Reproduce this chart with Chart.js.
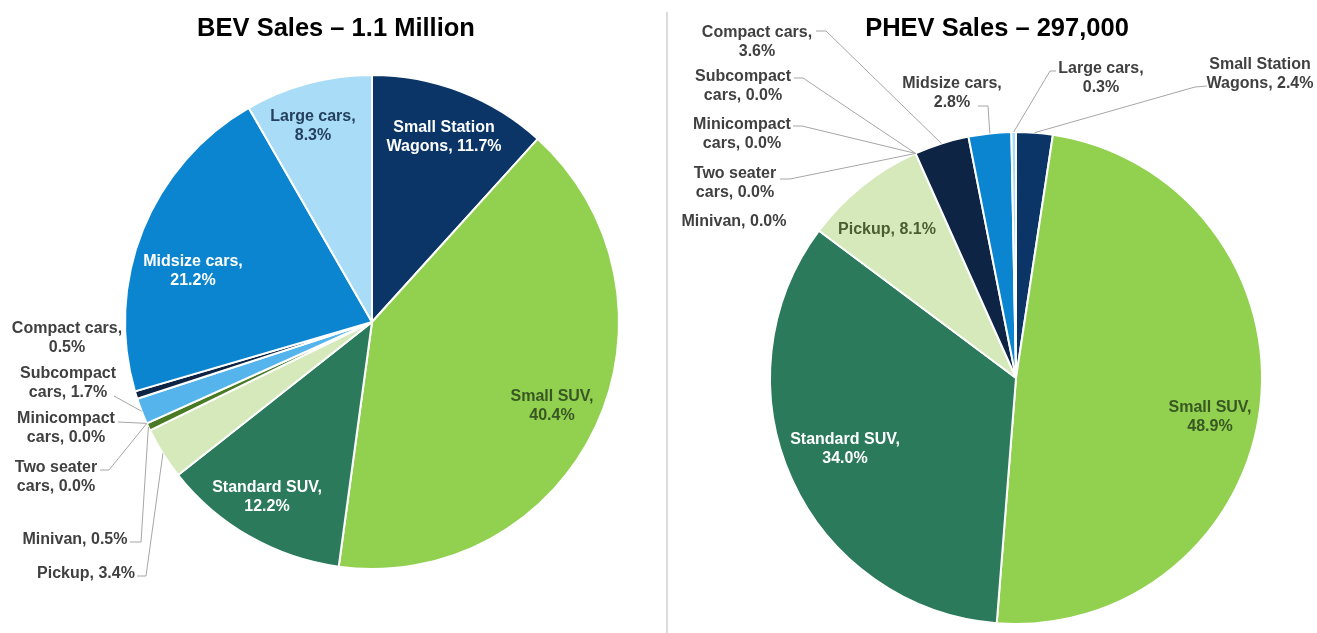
<!DOCTYPE html>
<html>
<head>
<meta charset="utf-8">
<script src="https://cdn.jsdelivr.net/npm/chart.js@4.4.1/dist/chart.umd.min.js"></script>
<style>
  html, body { margin:0; padding:0; background:#ffffff; }
  #wrap { position:relative; width:1317px; height:633px; background:#ffffff; overflow:hidden; }
  canvas { position:absolute; left:0; top:0; }
  #sep { position:absolute; left:666px; top:12px; width:2px; height:621px; background:#dcdcdc; }
</style>
</head>
<body>
<div id="wrap">
  <div id="sep"></div>
  <canvas id="bev" width="1317" height="633"></canvas>
  <canvas id="phev" width="1317" height="633"></canvas>
</div>
<script>
// ---------- DATA ----------
const categories = [
  'Small Station Wagons', 'Small SUV', 'Standard SUV', 'Pickup', 'Minivan',
  'Two seater cars', 'Minicompact cars', 'Subcompact cars', 'Compact cars',
  'Midsize cars', 'Large cars'
];
const bevShares  = [11.7, 40.4, 12.2, 3.4, 0.5, 0.0, 0.0, 1.7, 0.5, 21.2, 8.3];
const phevShares = [2.4, 48.9, 34.0, 8.1, 0.0, 0.0, 0.0, 0.0, 3.6, 2.8, 0.3];
const bevTitle  = 'BEV Sales \u2013 1.1 Million';
const phevTitle = 'PHEV Sales \u2013 297,000';

// ---------- STYLE ----------
const sliceColors = [
  '#0b3567', '#92d050', '#2a7a5b', '#d5e9bb', '#4a7b24',
  '#7f7f7f', '#bfbfbf', '#55b4ec', '#0d2444', '#0b85d0', '#a8dcf7'
];
const FONT = '"Liberation Sans", Arial, Helvetica, sans-serif';
const GREY = '#404040';
const LINE_H = 19;

// label placement (page pixels); brk = number of words on first line (0 = single line)
const bevLabelLayout = [
  {x:444, y:128, brk:2, color:'#ffffff'},
  {x:552, y:397, brk:2, color:'#385723'},
  {x:267, y:488, brk:2, color:'#ffffff'},
  {x:86,  y:574, brk:0, color:GREY, line:[[137,576],[146,576]]},
  {x:75,  y:540, brk:0, color:GREY, line:[[130,542],[141,542]]},
  {x:56,  y:468, brk:2, color:GREY, line:[[100,470],[109,470]]},
  {x:66,  y:419, brk:1, color:GREY, line:[[118,422]]},
  {x:68,  y:374, brk:1, color:GREY, line:[[114,396]]},
  {x:67,  y:329, brk:2, color:GREY},
  {x:193, y:262, brk:2, color:'#ffffff'},
  {x:313, y:117, brk:2, color:'#24405e'}
];
const phevLabelLayout = [
  {x:1260, y:65,  brk:2, color:GREY, line:[[1207,86],[1195,87]]},
  {x:1210, y:408, brk:2, color:'#385723'},
  {x:845,  y:440, brk:2, color:'#ffffff'},
  {x:887,  y:230, brk:0, color:'#4a5e32'},
  {x:734,  y:222, brk:0, color:GREY},
  {x:735,  y:174, brk:2, color:GREY, line:[[780,179],[790,179]]},
  {x:742,  y:125, brk:1, color:GREY, line:[[793,126],[802,126]]},
  {x:743,  y:77,  brk:1, color:GREY, line:[[794,78],[803,78]]},
  {x:757,  y:33,  brk:2, color:GREY, line:[[816,31],[826,31]]},
  {x:952,  y:84,  brk:2, color:GREY, line:[[978,106],[988,106]]},
  {x:1101, y:69,  brk:2, color:GREY, line:[[1056,71],[1050,71]]}
];

function labelLines(name, val, brk) {
  const txt = name + ', ' + val.toFixed(1) + '%';
  if (!brk) return [txt];
  const words = txt.split(' ');
  return [words.slice(0, brk).join(' '), words.slice(brk).join(' ')];
}

function makeLabelPlugin(shares, layout, title, titleX) {
  return {
    id: 'sliceLabels',
    afterDraw(chart) {
      const ctx = chart.ctx;
      const meta = chart.getDatasetMeta(0);
      ctx.save();
      // title
      ctx.font = 'bold 25.5px ' + FONT;
      ctx.fillStyle = '#000000';
      ctx.textAlign = 'center';
      ctx.textBaseline = 'alphabetic';
      ctx.fillText(title, titleX, 36);
      // leader lines
      ctx.strokeStyle = '#a6a6a6';
      ctx.lineWidth = 1;
      meta.data.forEach((arc, i) => {
        const L = layout[i];
        if (!L || !L.line) return;
        const a = (arc.startAngle + arc.endAngle) / 2;
        const ex = arc.x + Math.cos(a) * arc.outerRadius;
        const ey = arc.y + Math.sin(a) * arc.outerRadius;
        ctx.beginPath();
        ctx.moveTo(L.line[0][0], L.line[0][1]);
        for (let k = 1; k < L.line.length; k++) ctx.lineTo(L.line[k][0], L.line[k][1]);
        ctx.lineTo(ex, ey);
        ctx.stroke();
      });
      // labels
      ctx.font = 'bold 16px ' + FONT;
      ctx.textAlign = 'center';
      ctx.textBaseline = 'middle';
      meta.data.forEach((arc, i) => {
        const L = layout[i];
        if (!L) return;
        const lines = labelLines(categories[i], shares[i], L.brk);
        ctx.fillStyle = L.color;
        lines.forEach((t, k) => ctx.fillText(t, L.x, L.y + k * LINE_H));
      });
      ctx.restore();
    }
  };
}

function makePie(id, shares, padding, layout, title, titleX) {
  return new Chart(document.getElementById(id), {
    type: 'pie',
    data: {
      labels: categories,
      datasets: [{
        data: shares,
        backgroundColor: sliceColors,
        borderColor: '#ffffff',
        borderWidth: 2
      }]
    },
    options: {
      responsive: false,
      animation: false,
      devicePixelRatio: 1,
      layout: { padding: padding },
      plugins: { legend: { display: false }, tooltip: { enabled: false }, title: { display: false } },
      events: []
    },
    plugins: [makeLabelPlugin(shares, layout, title, titleX)]
  });
}

makePie('bev', bevShares, {left:124, right:697, top:74, bottom:63}, bevLabelLayout, bevTitle, 336);
makePie('phev', phevShares, {left:769, right:54, top:131, bottom:8}, phevLabelLayout, phevTitle, 997);
</script>
</body>
</html>
